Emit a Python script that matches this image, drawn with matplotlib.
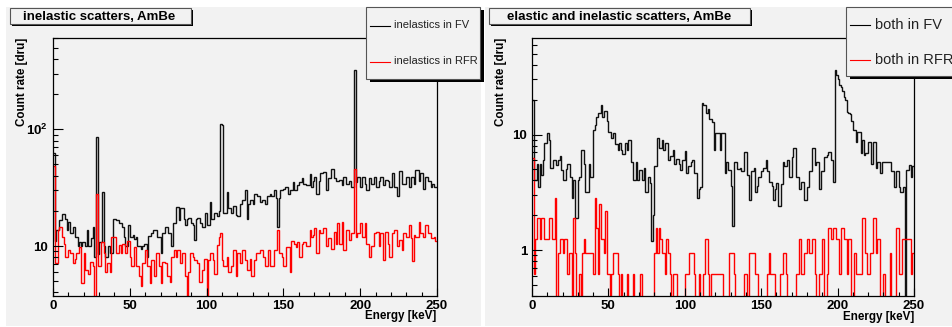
import numpy as np
import matplotlib
matplotlib.use("Agg")
import matplotlib.pyplot as plt
from matplotlib.patches import Rectangle
from matplotlib.lines import Line2D
from matplotlib.ticker import FixedLocator, FixedFormatter, LogLocator, NullFormatter, MultipleLocator

plt.rcParams['font.family'] = ['Liberation Sans', 'DejaVu Sans']
plt.rcParams['mathtext.fontset'] = 'custom'
plt.rcParams['mathtext.rm'] = 'Liberation Sans'
plt.rcParams['mathtext.bf'] = 'Liberation Sans:bold'

# ---------------- data (1 keV bins, 0..250 keV) ----------------
energy_edges = np.arange(0, 251, 1)

inel_fv = [
    62, 11, 13.7, 13.7, 16.7, 16.7, 18.8, 18.8, 17, 13.7,
    16, 12.8, 12.8, 14.6, 12, 12, 10, 10.9, 10, 10.9,
    10.9, 10, 13.7, 10, 10, 11.6, 14.5, 8.1, 86, 8.5,
    10.9, 10.9, 29, 10, 8.1, 8.1, 10, 8.7, 8.7, 17,
    17, 16.7, 16.7, 15.6, 15.6, 14.6, 12, 10, 10, 15,
    12, 12, 12.5, 11.5, 12, 10, 10, 9.5, 10, 10.5,
    10.5, 8.1, 12.2, 12.2, 12.8, 13.7, 13.7, 13.7, 12, 12,
    8.7, 12.8, 12.8, 14.6, 14.6, 12.8, 12.8, 10, 15.6, 15.6,
    21.7, 21.7, 16.7, 21, 21, 17, 15, 17, 17.5, 17.5,
    15.6, 15, 11.2, 17, 17.5, 17.5, 15.6, 14.5, 14.5, 19,
    15, 15, 24, 17, 17, 19, 19, 18, 20, 110,
    108, 19, 19, 29, 21, 21, 19, 22, 22, 18.5,
    18, 18, 23, 25, 25, 30, 17, 23, 25, 25,
    23, 28, 28, 27, 27, 24, 25, 25, 23, 27,
    27, 28, 27, 27, 30, 26, 14.5, 26, 30, 30,
    31, 32, 32, 28, 30, 30, 35, 30, 30, 33,
    35, 35, 38, 34, 34, 33, 33, 41, 32, 36,
    39, 28, 28, 36, 42, 42, 43, 43, 30, 38,
    38, 46, 46, 38, 36, 36, 37, 37, 33, 39,
    39, 34, 34, 36, 32, 32, 320, 35, 39, 39,
    32, 39, 39, 34, 30, 30, 38, 34, 34, 39,
    32, 32, 36, 39, 39, 33, 37, 37, 36, 32,
    32, 42, 32, 32, 27, 44, 44, 34, 34, 34,
    39, 39, 32, 39, 39, 34, 45, 45, 36, 42,
    42, 31, 39, 39, 36, 36, 32, 34, 32, 32,
]

inel_rfr = [
    48, 7.1, 7.1, 13.7, 14.6, 14.6, 12, 10.5, 8.1, 8.1,
    9.2, 8.7, 8.7, 7.1, 7.8, 8.7, 8.7, 9.9, 4.8, 4.8,
    8.7, 6.2, 6.2, 5.8, 7.3, 7.3, 6.7, 0, 28, 6.7,
    6.7, 10.9, 10.9, 8.7, 6.0, 7.1, 7.1, 6.0, 12, 12,
    12, 8.7, 8.7, 10.2, 8.7, 10.5, 10.5, 8.7, 11, 11,
    8.1, 6.7, 6.7, 9.9, 6.7, 6.7, 5.5, 4.5, 7.1, 7.1,
    9.2, 6.7, 6.7, 4.8, 7.6, 7.6, 5.5, 8.7, 8.7, 6.7,
    4.8, 7.3, 7.3, 7.1, 5.5, 5.5, 4.9, 8.1, 8.1, 9.2,
    8.1, 9.2, 9.2, 7.1, 8.7, 8.7, 5.5, 0, 6.0, 8.7,
    8.7, 8.1, 7.6, 7.6, 7.1, 4.9, 4.9, 6.2, 7.8, 7.8,
    0, 7.6, 8.7, 8.7, 7.6, 5.8, 5.8, 10.2, 12, 12.8,
    7.6, 6.7, 6.7, 8.1, 6.0, 6.0, 6.7, 9.2, 9.2, 5.5,
    8.7, 8.7, 7.1, 9.2, 9.2, 7.6, 6.2, 6.2, 7.8, 5.5,
    5.5, 7.6, 8.7, 8.7, 8.7, 9.2, 9.2, 8.1, 6.7, 6.7,
    9.2, 6.7, 6.7, 6.7, 9.2, 9.2, 13.7, 8.7, 8.7, 8.1,
    6.7, 6.7, 9.9, 9.9, 6.0, 11, 11, 10.5, 9.9, 10.9,
    8.1, 8.1, 10.5, 10.9, 10.9, 10, 10, 13.7, 12, 12.5,
    14.2, 8.7, 8.7, 13.7, 12.8, 12.8, 14.2, 14.2, 10, 11.6,
    11.6, 9.5, 9.5, 13.3, 10.5, 15.6, 10.5, 10.5, 16.2, 9.2,
    9.2, 13.7, 13.7, 11.3, 12.8, 12.8, 46, 12, 12.8, 12.8,
    15.6, 12, 12, 15.6, 10.5, 10.5, 8.1, 10, 10, 12.8,
    13.3, 13.3, 10, 12.8, 12.8, 7.6, 13.3, 13.3, 10.5, 8.1,
    8.1, 12.8, 13.7, 13.7, 10, 11.3, 11.3, 9.2, 12.8, 12.8,
    12, 12, 15.1, 11.6, 7.5, 12.4, 12, 12, 16.2, 12.8,
    12.8, 12, 15.1, 15.1, 12.8, 12.8, 11.6, 11.6, 12, 11,
]

both_fv = [
    20, 4.0, 4.0, 5.6, 3.5, 5.6, 4.5, 6.0, 8.4, 8.4,
    10.3, 9.0, 5.1, 5.1, 6, 6, 5.5, 6, 6.5, 4.9,
    4.0, 4.0, 5, 5.6, 5.6, 4.3, 2.8, 4, 1.9, 1.9,
    4, 4.3, 7.4, 7.4, 5.6, 3.2, 3.2, 5.6, 4.3, 4.3,
    11, 12.1, 14.3, 15.3, 15.3, 18, 14.3, 16, 16, 13,
    10.6, 10.6, 9.4, 10.3, 8.2, 8.2, 7.4, 8.5, 7.4, 6.8,
    6.8, 8.5, 7.4, 9.0, 9.0, 5.8, 4.0, 4.0, 5.8, 4.0,
    4.9, 4.9, 4.0, 5.1, 3.2, 3.2, 4.3, 3.8, 1.2, 2.0,
    5.3, 5.3, 9.4, 7.7, 7.7, 9, 7.4, 8.4, 8.4, 6.0,
    6.5, 6.5, 7.4, 5.6, 6.2, 6.2, 5.6, 4.9, 6, 6,
    7.2, 4.6, 5.3, 5.3, 5.8, 6.0, 4.6, 4.6, 2.8, 3.4,
    3.5, 18.7, 18, 18, 15.3, 16.5, 13.5, 13.5, 12.9, 7.4,
    10.3, 10.3, 10.3, 7.4, 10.3, 10.3, 4.6, 5.8, 4.9, 4.9,
    3.6, 1.6, 5.8, 5.8, 5, 5, 5.1, 4.8, 4.8, 7.1,
    7.1, 4.5, 2.7, 4.8, 4.8, 5.1, 3.2, 3.6, 4.3, 4.3,
    4.8, 5.1, 5.1, 6.0, 4.8, 3.9, 3.9, 3.6, 2.7, 3.4,
    3.8, 2.4, 2.4, 3.7, 5.8, 5.3, 5.3, 6.0, 4.3, 4.3,
    6.4, 7.6, 7.6, 4.3, 4.3, 3.4, 3.9, 3.9, 2.7, 2.7,
    3.5, 4.8, 4.8, 7.6, 7.6, 5.5, 5.8, 5.8, 3.4, 4.8,
    4.8, 6.4, 6.4, 6.7, 7.1, 7.1, 6.0, 3.9, 36.3, 33,
    30, 27, 26, 23.6, 21.3, 20, 15.8, 15.3, 15, 13,
    11, 11, 8.7, 10.6, 10.6, 6.9, 9.0, 6.7, 6.9, 6.9,
    8.7, 8.7, 5.6, 8.7, 8.7, 5.1, 5.8, 5.8, 4.6, 5.8,
    5.8, 5.8, 5.8, 5.8, 5.8, 4.8, 4.8, 3.5, 4.8, 4.8,
    3.5, 3.2, 3.2, 3.5, 0, 4.9, 4.9, 5.4, 4.3, 5.3,
]

both_rfr = [
    6.25, 0.625, 1.25, 1.88, 1.88, 1.25, 1.88, 1.88, 1.25, 1.25,
    1.25, 1.88, 1.88, 1.25, 1.25, 2.81, 0, 0.94, 1.25, 1.25,
    0.94, 1.25, 1.25, 0.625, 0.94, 0.94, 0, 1.88, 0.94, 0,
    0, 0.625, 0, 0.94, 1.25, 0.94, 0.94, 0.94, 0.94, 0.94,
    0.625, 2.81, 1.56, 0.625, 2.5, 1.25, 1.25, 0.94, 2.19, 0.625,
    0.625, 0, 0.625, 0.94, 0.94, 0.94, 0.625, 0, 0.625, 0,
    0, 0, 0.625, 0, 0, 0, 0.625, 0, 0, 0,
    0, 0.625, 0, 0, 0, 0, 0, 0, 0, 0,
    0.94, 1.56, 0.94, 1.56, 1.25, 0.94, 0.94, 0.625, 1.25, 0.94,
    0.625, 0, 0.625, 0.625, 0.625, 0, 0, 0, 0, 0,
    0.625, 0.625, 0.625, 0.94, 0.94, 0.94, 0.625, 0, 0, 0.625,
    0, 0, 0.625, 1.25, 1.25, 0.625, 0, 0.625, 0.625, 0.625,
    0.625, 0.625, 0.625, 0.625, 0.625, 0, 0, 0, 0, 0.94,
    0.94, 0.94, 0.625, 0, 0, 0, 0, 0, 0, 0.625,
    0.625, 0, 0.94, 0.94, 0.94, 0.94, 0.625, 0.625, 0, 0,
    0, 0, 0, 0, 0.625, 0.94, 0.625, 0.625, 0.625, 0,
    0, 0, 0.625, 0.625, 0.94, 0.94, 0.625, 0, 0, 0,
    0, 0, 0, 0.625, 0.625, 1.25, 0.625, 0.625, 0.94, 0.94,
    1.25, 0.94, 0.94, 1.25, 1.25, 0.625, 0, 0, 0.625, 0.625,
    1.25, 0, 0, 0.625, 1.56, 1.56, 1.25, 1.56, 1.56, 1.25,
    1.25, 0.625, 1.56, 1.56, 1.25, 1.25, 0.625, 1.25, 1.25, 0,
    0, 0.94, 0.625, 0.625, 0.625, 0.625, 1.88, 1.88, 0.94, 0.625,
    0.625, 0.94, 0.94, 1.88, 1.88, 0.94, 1.25, 1.25, 0, 0,
    0.625, 0, 0, 0, 0.94, 0, 0, 0, 1.56, 1.56,
    0.625, 0.625, 1.25, 1.25, 1.25, 1.25, 1.25, 1.25, 0.625, 0.94,
]

left_title = "inelastic scatters, AmBe"
right_title = "elastic and inelastic scatters, AmBe"
left_labels = ["inelastics in FV", "inelastics in RFR"]
right_labels = ["both in FV", "both in RFR"]
x_label = "Energy [keV]"
y_label = "Count rate [dru]"

# ---------------- layout helpers (pixel coords, origin top-left) ----------------
W, H = 953, 327
fig = plt.figure(figsize=(W / 100, H / 100), dpi=100)
fig.patch.set_facecolor("white")

def fx(x):
    return x / W

def fy(y):
    return 1 - y / H

PAD = "#f2f2f2"

def rect(x0, y0, x1, y1, fc, ec="none", lw=0.0, z=0):
    r = Rectangle((fx(x0), fy(y1)), fx(x1) - fx(x0), fy(y0) - fy(y1),
                  transform=fig.transFigure, fc=fc, ec=ec, lw=lw, zorder=z)
    fig.add_artist(r)
    return r

# pads
rect(6, 7, 481, 326, PAD, z=0)
rect(485, 7, 953, 326, PAD, z=0)

def make_axes(x0, x1, ymin, ymax, fv, rfr, major, majlabels):
    ax = fig.add_axes([fx(x0), fy(296), fx(x1) - fx(x0), fy(38) - fy(296)])
    ax.set_facecolor(PAD)
    ax.stairs(fv, energy_edges, color="#111111", lw=1.0, baseline=None)
    ax.stairs(rfr, energy_edges, color="#ff0000", lw=1.0, baseline=None)
    ax.set_yscale("log", nonpositive="clip")
    ax.set_xlim(0, 250)
    ax.set_ylim(ymin, ymax)
    ax.yaxis.set_major_locator(FixedLocator(major))
    ax.yaxis.set_major_formatter(FixedFormatter(majlabels))
    ax.yaxis.set_minor_locator(LogLocator(base=10, subs=np.arange(2, 10)))
    ax.yaxis.set_minor_formatter(NullFormatter())
    ax.xaxis.set_major_locator(MultipleLocator(50))
    ax.xaxis.set_minor_locator(MultipleLocator(10))
    ax.tick_params(axis="both", which="both", direction="in", top=False, right=False,
                   width=0.8, color="black")
    ax.tick_params(axis="y", which="major", length=7.5, pad=3.5)
    ax.tick_params(axis="y", which="minor", length=3.8)
    ax.tick_params(axis="x", which="major", length=5.5, pad=3)
    ax.tick_params(axis="x", which="minor", length=3)
    for lab in ax.get_xticklabels() + ax.get_yticklabels():
        lab.set_fontweight("bold")
        lab.set_fontsize(9.5)
    for sp in ax.spines.values():
        sp.set_linewidth(0.9)
    return ax

axL = make_axes(53, 437, 3.73, 605, inel_fv, inel_rfr, [10, 100],
                ["10", r"$\mathbf{10^{2}}$"])
axR = make_axes(532, 914, 0.40, 68.5, both_fv, both_rfr, [1, 10], ["1", "10"])

# axis titles
for xc in (22, 501):
    fig.text(fx(xc), fy(38), y_label, rotation=90, ha="center", va="top",
             fontsize=8.4, fontweight="bold")
fig.text(fx(436), fy(316.5), x_label, ha="right", va="center", fontsize=8.4, fontweight="bold")
fig.text(fx(914), fy(317), x_label, ha="right", va="center", fontsize=8.4, fontweight="bold")

# title boxes with shadow
def title_box(x0, y0, x1, y1, text, tx):
    rect(x0 + 2, y0 + 2, x1 + 2, y1 + 2, "black", z=5)
    rect(x0, y0, x1, y1, PAD, ec="#555555", lw=0.8, z=6)
    fig.text(fx(tx), fy((y0 + y1) / 2 + 0.5), text, ha="left", va="center",
             fontsize=9.5, fontweight="bold", zorder=7)

title_box(10, 8, 191, 24, left_title, 23)
title_box(489, 8, 750, 24, right_title, 507)

# legends with shadow
def legend_box(x0, y0, x1, y1, labels, ys, lx0, lx1, tx, fs):
    rect(x0 + 4, y0 + 3, x1 + 4, y1 + 3, "black", z=8)
    rect(x0, y0, x1, y1, PAD, ec="#555555", lw=0.8, z=9)
    for lab, yy, col in zip(labels, ys, ["black", "#ff0000"]):
        fig.add_artist(Line2D([fx(lx0), fx(lx1)], [fy(yy), fy(yy)], transform=fig.transFigure,
                              color=col, lw=0.8, zorder=10))
        fig.text(fx(tx), fy(yy), lab, ha="left", va="center", fontsize=fs,
                 color="#222222", zorder=10)

legend_box(366, 7, 480, 79, left_labels, [25.5, 61.5], 370, 390, 394, 8)
legend_box(846, 7, 956, 76, right_labels, [25, 60], 850, 870, 875, 10.5)

fig.savefig("out.png", dpi=100, facecolor="white")
